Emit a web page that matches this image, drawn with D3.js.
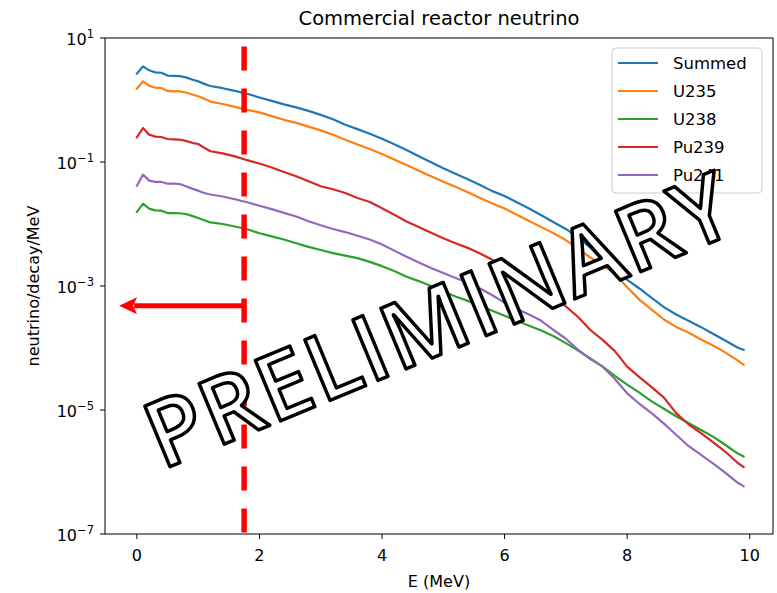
<!DOCTYPE html>
<html><head><meta charset="utf-8">
<script src="https://cdn.jsdelivr.net/npm/d3@7"></script>
<style>
body{margin:0;background:#fff;}
svg text{font-family:"DejaVu Sans",sans-serif;}
</style>
</head><body>
<svg id="chart" width="777" height="593"></svg>
<script>
// ---------- data ----------
const energy = [0,0.1,0.2,0.3,0.4,0.5,0.6,0.7,0.8,0.9,1.0,1.1,1.2,1.4,1.6,1.8,2.0,2.2,2.4,2.6,2.8,3.0,3.2,3.4,3.6,3.8,4.0,4.2,4.4,4.6,4.8,5.0,5.2,5.4,5.6,5.8,6.0,6.2,6.4,6.6,6.8,7.0,7.2,7.4,7.6,7.8,8.0,8.2,8.4,8.6,8.8,9.0,9.2,9.4,9.6,9.8,9.9];

const summed = [2.66,3.49,3.01,2.79,2.75,2.48,2.45,2.43,2.32,2.14,2.00,1.82,1.68,1.55,1.40,1.26,1.10,0.966,0.851,0.759,0.668,0.575,0.490,0.398,0.339,0.285,0.237,0.193,0.156,0.124,0.0989,0.0794,0.0646,0.0528,0.0425,0.0339,0.0282,0.0224,0.0178,0.0138,0.0107,0.00832,0.00603,0.00417,0.00263,0.00174,0.00126,9.12e-4,6.46e-4,4.57e-4,3.47e-4,2.75e-4,2.19e-4,1.70e-4,1.32e-4,1.02e-4,9.33e-5];

const u235 = [1.52,2.00,1.70,1.58,1.56,1.40,1.38,1.38,1.32,1.23,1.15,1.05,0.944,0.861,0.776,0.692,0.631,0.550,0.479,0.427,0.372,0.324,0.275,0.229,0.191,0.162,0.135,0.110,0.0895,0.0724,0.0589,0.0482,0.0398,0.0324,0.0263,0.0214,0.0178,0.0141,0.0112,0.00891,0.00708,0.00550,0.00398,0.00288,0.00219,0.00158,9.55e-4,6.03e-4,4.17e-4,2.88e-4,2.19e-4,1.78e-4,1.38e-4,1.10e-4,8.51e-5,6.31e-5,5.37e-5];

const u238 = [0.0156,0.0213,0.0177,0.0166,0.0164,0.0150,0.0150,0.0149,0.0145,0.0135,0.0125,0.0115,0.0106,0.0100,0.00912,0.00822,0.00708,0.00631,0.00562,0.00490,0.00427,0.00380,0.00339,0.00309,0.00282,0.00245,0.00209,0.00174,0.00141,0.00120,0.00100,8.13e-4,6.76e-4,5.75e-4,4.79e-4,3.98e-4,3.31e-4,2.75e-4,2.29e-4,1.91e-4,1.55e-4,1.20e-4,9.12e-5,6.76e-5,5.01e-5,3.55e-5,2.57e-5,1.91e-5,1.38e-5,1.05e-5,7.94e-6,6.17e-6,4.79e-6,3.72e-6,2.75e-6,2.00e-6,1.78e-6];

const pu239 = [0.250,0.353,0.276,0.257,0.253,0.235,0.232,0.229,0.219,0.204,0.195,0.170,0.149,0.138,0.123,0.107,0.0944,0.0813,0.0692,0.0589,0.0490,0.0407,0.0363,0.0316,0.0263,0.0226,0.0180,0.0141,0.0110,0.00891,0.00724,0.00589,0.00490,0.00412,0.00335,0.00266,0.00214,0.00162,0.00123,9.33e-4,6.61e-4,4.68e-4,3.16e-4,1.95e-4,1.35e-4,8.91e-5,5.01e-5,3.39e-5,2.34e-5,1.58e-5,8.91e-6,5.89e-6,4.27e-6,3.02e-6,2.14e-6,1.41e-6,1.20e-6];

const pu241 = [0.0415,0.0625,0.0501,0.0479,0.0479,0.0447,0.0447,0.0442,0.0407,0.0372,0.0345,0.0316,0.0299,0.0278,0.0251,0.0224,0.0197,0.0174,0.0151,0.0132,0.0111,0.00955,0.00832,0.00741,0.00646,0.00562,0.00468,0.00372,0.00297,0.00240,0.00195,0.00162,0.00135,0.00114,9.12e-4,7.08e-4,5.37e-4,4.27e-4,3.47e-4,2.75e-4,1.95e-4,1.41e-4,9.33e-5,6.61e-5,5.01e-5,3.16e-5,1.86e-5,1.26e-5,8.91e-6,6.03e-6,3.98e-6,2.63e-6,1.91e-6,1.38e-6,9.77e-7,6.76e-7,5.89e-7];

const seriesNames = ["Summed","U235","U238","Pu239","Pu241"];
const seriesColors = ["#1f77b4","#ff7f0e","#2ca02c","#d62728","#9467bd"];
const xTicks = [0,2,4,6,8,10];
const yTicks = [1e1,1e-1,1e-3,1e-5,1e-7];
const yTickExponents = ["1","\u22121","\u22123","\u22125","\u22127"];
const titleText = "Commercial reactor neutrino";
const xLabel = "E (MeV)";
const yLabel = "neutrino/decay/MeV";
const thresholdE = 1.75;        // red dashed cut line (MeV)
const arrowEndE = -0.29;        // arrow tip (MeV)
const arrowLevel = 4.8e-4;      // arrow height (neutrino/decay/MeV)
const watermark = "PRELIMINARY";

// ---------- layout ----------
const svg = d3.select("#chart");
const L = 105, R = 773, T = 38, B = 534;
const x = d3.scaleLinear().domain([-0.52, 10.38]).range([L, R]);
const y = d3.scaleLog().domain([1e-7, 10]).range([B, T]);

svg.append("rect").attr("width",777).attr("height",593).attr("fill","#fff");

// series lines
const seriesData = [summed, u235, u238, pu239, pu241];
const line = d3.line().x((d,i)=>x(energy[i])).y(d=>y(d));
seriesData.forEach((vals,k)=>{
  svg.append("path").datum(vals)
    .attr("d", line)
    .attr("fill","none")
    .attr("stroke", seriesColors[k])
    .attr("stroke-width", 2.2)
    .attr("stroke-linejoin","round")
    .attr("stroke-linecap","square");
});

// axes spines
svg.append("rect").attr("x",L).attr("y",T).attr("width",R-L).attr("height",B-T)
  .attr("fill","none").attr("stroke","#000").attr("stroke-width",1);

// x ticks
const xt = svg.append("g");
xTicks.forEach(t=>{
  xt.append("line").attr("x1",x(t)).attr("x2",x(t)).attr("y1",B).attr("y2",B+5)
    .attr("stroke","#000").attr("stroke-width",1);
  xt.append("text").attr("x",x(t)).attr("y",B+27).attr("text-anchor","middle")
    .attr("font-size",16).attr("fill","#000").text(t);
});
// y ticks
const yt = svg.append("g");
yTicks.forEach((t,i)=>{
  yt.append("line").attr("x1",L-5).attr("x2",L).attr("y1",y(t)).attr("y2",y(t))
    .attr("stroke","#000").attr("stroke-width",1);
  const tx = yt.append("text").attr("x",L-11).attr("y",y(t)+7).attr("text-anchor","end")
    .attr("font-size",16).attr("fill","#000");
  tx.append("tspan").text("10");
  tx.append("tspan").attr("dy",-7).attr("font-size",11.5).text(yTickExponents[i]);
});

// title & labels
svg.append("text").attr("x",(L+R)/2).attr("y",25).attr("text-anchor","middle")
  .attr("font-size",19.5).attr("fill","#000").text(titleText);
svg.append("text").attr("x",(L+R)/2).attr("y",587).attr("text-anchor","middle")
  .attr("font-size",16).attr("fill","#000").text(xLabel);
svg.append("text").attr("transform",`translate(39,${(T+B)/2}) rotate(-90)`)
  .attr("text-anchor","middle").attr("font-size",16).attr("fill","#000").text(yLabel);

// legend
const lg = svg.append("g");
lg.append("rect").attr("x",612).attr("y",48).attr("width",150).attr("height",145)
  .attr("rx",4).attr("fill","#fff").attr("fill-opacity",0.8)
  .attr("stroke","#cccccc").attr("stroke-width",1);
seriesNames.forEach((n,i)=>{
  const yy = 63 + i*28;
  lg.append("line").attr("x1",618).attr("x2",658).attr("y1",yy).attr("y2",yy)
    .attr("stroke",seriesColors[i]).attr("stroke-width",2.2);
  lg.append("text").attr("x",673).attr("y",yy+6).attr("font-size",16.5)
    .attr("fill","#000").text(n);
});

// red annotation: dashed cut line + arrow
const xc = x(thresholdE);
svg.append("line").attr("x1",xc).attr("x2",xc).attr("y1",46.5).attr("y2",B)
  .attr("stroke","#ff0000").attr("stroke-width",5.5).attr("stroke-dasharray","24,18");
const ya = y(arrowLevel), xtip = x(arrowEndE);
svg.append("line").attr("x1",xc).attr("x2",xtip+15).attr("y1",ya).attr("y2",ya)
  .attr("stroke","#ff0000").attr("stroke-width",5);
svg.append("path")
  .attr("d",`M${xtip},${ya} L${xtip+18},${ya-8.5} L${xtip+14},${ya} L${xtip+18},${ya+8.5} Z`)
  .attr("fill","#ff0000");

// watermark
svg.append("text")
  .attr("transform","translate(162,470) rotate(-22.5)")
  .attr("x",0).attr("y",0)
  .style("font-family","'Open Sans', sans-serif")
  .attr("font-weight",600)
  .attr("font-size",92)
  .attr("textLength",625).attr("lengthAdjust","spacing")
  .attr("fill","#fff").attr("stroke","#000").attr("stroke-width",3.5)
  .attr("stroke-linejoin","round")
  .text(watermark);
</script>
</body></html>
